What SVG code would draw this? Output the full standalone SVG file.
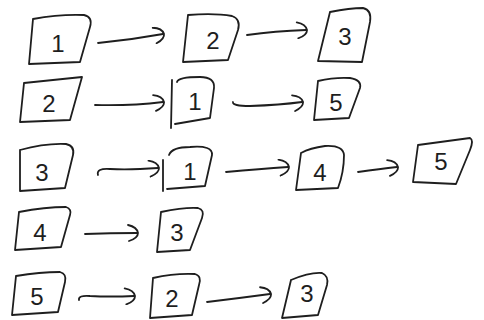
<svg xmlns="http://www.w3.org/2000/svg" width="484" height="320" viewBox="0 0 484 320">
<defs>
<style>
.b{fill:none;stroke:#1e1e1e;stroke-width:1.8;stroke-linecap:round;stroke-linejoin:round}
.c{fill:none;stroke:#1e1e1e;stroke-width:1.8;stroke-linecap:round}
.t{font-family:"Liberation Sans","DejaVu Sans",sans-serif;font-size:24px;fill:#1e1e1e;text-anchor:middle}
</style>
<marker id="ah" viewBox="0 0 14 18" refX="11" refY="9" markerWidth="14" markerHeight="18" markerUnits="userSpaceOnUse" orient="auto">
<path d="M2,1 Q11,3 12,9 Q12,14 3,17" fill="none" stroke="#1e1e1e" stroke-width="1.8" stroke-linecap="round"/>
</marker>
</defs>
<rect width="484" height="320" fill="#fff"/>
<g id="connectors">
<path class="c" d="M98,43 Q130,40 163,34" marker-end="url(#ah)"/>
<path class="c" d="M247,35 Q275,31 306,30" marker-end="url(#ah)"/>
<path class="c" d="M95,105 Q130,106 163,102" marker-end="url(#ah)"/>
<path class="c" d="M233,102 Q232,106 250,106 Q280,105 302,102" marker-end="url(#ah)"/>
<path class="c" d="M98,175 Q96,168 110,169 Q130,170 158,168" marker-end="url(#ah)"/>
<path class="c" d="M226,172 Q260,169 288,167" marker-end="url(#ah)"/>
<path class="c" d="M358,172 Q380,169 397,167" marker-end="url(#ah)"/>
<path class="c" d="M85,234 Q110,233 137,233" marker-end="url(#ah)"/>
<path class="c" d="M79,300 Q78,295 90,296 Q110,297 134,296" marker-end="url(#ah)"/>
<path class="c" d="M207,302 Q240,298 270,294" marker-end="url(#ah)"/>
</g>
<g id="r1n1"><path class="b" d="M33,19 Q60,14 84,15 Q93,17 90,27 L80,62 L29,64 L33,19"/><text class="t" x="58" y="52">1</text></g>
<g id="r1n2"><path class="b" d="M188,15 Q215,13 232,16 Q241,19 238,30 L228,60 L183,62 L188,15"/><text class="t" x="213" y="49">2</text></g>
<g id="r1n3"><path class="b" d="M330,12 Q350,8 363,8 Q372,10 370,22 L362,62 L318,61 L330,12"/><text class="t" x="345" y="45">3</text></g>
<g id="r2n2"><path class="b" d="M24,83 L82,77 L70,120 L20,122 L24,83"/><text class="t" x="49" y="112">2</text></g>
<g id="r2n1"><path class="b" d="M172,80 L171,128 M177,82 Q178,77 200,77 Q215,77 214,88 L210,118 L175,124"/><text class="t" x="195" y="110">1</text></g>
<g id="r2n5"><path class="b" d="M318,81 Q335,77 350,78 Q362,80 360,88 L349,118 L314,120 L318,81"/><text class="t" x="336" y="111">5</text></g>
<g id="r3n3"><path class="b" d="M20,150 Q45,143 66,144 Q75,146 73,155 L65,188 L20,191 L20,150"/><text class="t" x="42" y="181">3</text></g>
<g id="r3n1"><path class="b" d="M163,160 L163,191 M169,155 Q172,147 190,147 Q213,145 212,155 L205,186 L167,189"/><text class="t" x="190" y="180">1</text></g>
<g id="r3n4"><path class="b" d="M301,153 Q310,148 325,146 Q343,145 344,155 Q344,172 338,188 L296,190 L301,153"/><text class="t" x="320" y="181">4</text></g>
<g id="r3n5"><path class="b" d="M418,145 L470,138 Q474,140 470,150 L456,184 L413,182 L418,145"/><text class="t" x="441" y="170">5</text></g>
<g id="r4n4"><path class="b" d="M19,212 Q45,207 66,207 Q72,209 70,215 L61,247 L15,250 L19,212"/><text class="t" x="40" y="241">4</text></g>
<g id="r4n3"><path class="b" d="M161,212 Q185,207 198,208 Q205,210 202,218 L190,250 L157,252 L161,212"/><text class="t" x="177" y="241">3</text></g>
<g id="r5n5"><path class="b" d="M16,276 Q40,272 60,272 Q67,274 65,282 L58,312 L12,315 L16,276"/><text class="t" x="37" y="305">5</text></g>
<g id="r5n2"><path class="b" d="M153,278 Q175,273 195,274 Q202,276 199,285 L192,315 L150,318 L153,278"/><text class="t" x="172" y="307">2</text></g>
<g id="r5n3"><path class="b" d="M291,280 Q310,272 322,273 Q329,276 327,285 L318,315 L282,318 L291,280"/><text class="t" x="307" y="302">3</text></g>
</svg>
